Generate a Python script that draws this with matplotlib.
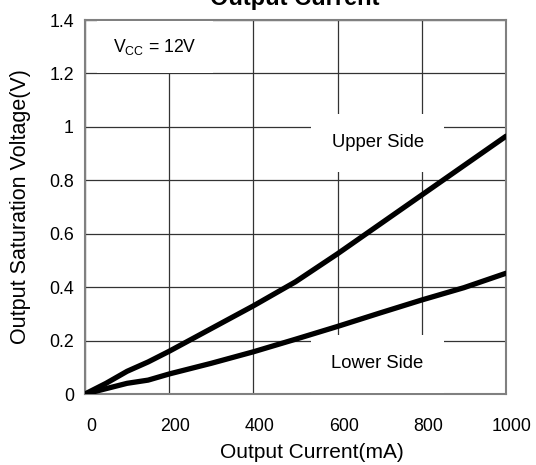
import matplotlib.pyplot as plt
import matplotlib.transforms as mtransforms

plt.rcParams['font.family'] = ['Liberation Sans', 'DejaVu Sans']

# data
current = [0, 50, 100, 150, 200, 300, 400, 500, 600, 700, 800, 900, 1000]
upper = [0, 0.04, 0.085, 0.12, 0.16, 0.245, 0.33, 0.42, 0.525, 0.635, 0.745, 0.855, 0.965]
lower = [0, 0.02, 0.04, 0.052, 0.075, 0.115, 0.158, 0.205, 0.253, 0.303, 0.352, 0.398, 0.452]
xticks = [0, 200, 400, 600, 800, 1000]
yticks = [0, 0.2, 0.4, 0.6, 0.8, 1.0, 1.2, 1.4]
ytick_labels = ['0', '0.2', '0.4', '0.6', '0.8', '1', '1.2', '1.4']

fig = plt.figure(figsize=(5.36, 4.65), dpi=100)
ax = fig.add_axes([85/536, 1-394/465, 421/536, 374/465])

ax.plot(current, upper, color='black', lw=3.8, solid_capstyle='round', zorder=4)
ax.plot(current, lower, color='black', lw=3.8, solid_capstyle='round', zorder=4)

ax.set_xlim(0, 1000)
ax.set_ylim(0, 1.4)
ax.set_xticks(xticks)
ax.set_xticklabels([str(v) for v in xticks])
ax.set_yticks(yticks)
ax.set_yticklabels(ytick_labels)
ax.tick_params(length=0, labelsize=12.8, pad=8)
ax.tick_params(axis='x', pad=17)
# x tick labels sit a little right of their grid lines in the reference
shift = mtransforms.ScaledTranslation(6/100, 0, fig.dpi_scale_trans)
for lab in ax.get_xticklabels():
    lab.set_transform(lab.get_transform() + shift)
ax.grid(True, color='#333333', lw=0.9)
ax.set_axisbelow(True)
for s in ax.spines.values():
    s.set_color('#808080')
    s.set_linewidth(1.5)

ax.set_xlabel('Output Current(mA)', fontsize=15, va='center')
ax.xaxis.set_label_coords((312-85)/421, (394-452.7)/374)
ax.set_ylabel('Output Saturation Voltage(V)', fontsize=15.5, va='center')
ax.yaxis.set_label_coords((20-85)/421, 0.5)

bbox = dict(boxstyle='square,pad=1.1', fc='white', ec='none')
ax.text(67, 1.30, r'V$_{\mathregular{CC}}$ = 12V', fontsize=12.7, va='center', ha='left',
        bbox=dict(boxstyle='square,pad=0.9', fc='white', ec='none'), zorder=3)
ax.text(695, 0.94, 'Upper Side', fontsize=13.3, ha='center', va='center', bbox=bbox, zorder=3)
ax.text(695, 0.113, 'Lower Side', fontsize=13.3, ha='center', va='center', bbox=bbox, zorder=3)

fig.text(295/536, 1-5/465, 'Output Current', fontsize=17, fontweight='bold',
         ha='center', va='baseline')

fig.savefig('out.png', dpi=100)
